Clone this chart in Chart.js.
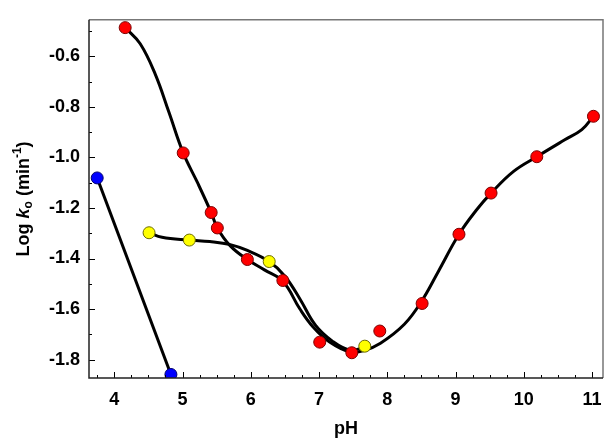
<!DOCTYPE html>
<html lang="en">
<head>
<meta charset="UTF-8">
<title>Log ko vs pH</title>
<script src="https://cdn.jsdelivr.net/npm/chart.js"></script>
<style>
    html, body { margin: 0; padding: 0; background: #ffffff; }
    #chart { display: block; }
</style>
</head>
<body>
<canvas id="chart" width="613" height="448"></canvas>
<script>
// measured points
const redPH = [4.16, 5.01, 5.42, 5.51, 5.95, 6.47, 7.01, 7.48, 7.89, 8.51, 9.05, 9.52, 10.19, 11.02];
const redLogK = [-0.486, -0.982, -1.218, -1.279, -1.404, -1.487, -1.731, -1.773, -1.687, -1.578, -1.304, -1.141, -0.997, -0.837];
const yellowPH = [4.51, 5.10, 6.27, 7.67];
const yellowLogK = [-1.298, -1.327, -1.412, -1.747];
const bluePH = [3.75, 4.83];
const blueLogK = [-1.081, -1.859];

// fitted curves
const redFitPH = [4.16, 4.38, 4.60, 4.80, 5.01, 5.22, 5.42, 5.51, 5.70, 5.95, 6.20, 6.47, 6.72, 6.91, 7.15, 7.45, 7.65, 7.90, 8.25, 8.50, 8.75, 9.05, 9.30, 9.52, 9.85, 10.19, 10.60, 10.85, 11.02];
const redFitLogK = [-0.486, -0.55, -0.67, -0.82, -0.982, -1.10, -1.218, -1.279, -1.35, -1.404, -1.445, -1.49, -1.60, -1.67, -1.73, -1.77, -1.765, -1.735, -1.66, -1.57, -1.45, -1.304, -1.21, -1.141, -1.055, -0.997, -0.93, -0.89, -0.837];
const yellowFitPH = [4.51, 4.70, 5.10, 5.40, 5.70, 5.95, 6.27, 6.50, 6.72, 6.95, 7.20, 7.45, 7.67];
const yellowFitLogK = [-1.298, -1.316, -1.327, -1.333, -1.345, -1.368, -1.412, -1.47, -1.56, -1.665, -1.728, -1.762, -1.752];

const xTicks = [4, 5, 6, 7, 8, 9, 10, 11];
const yTicks = [-0.6, -0.8, -1.0, -1.2, -1.4, -1.6, -1.8];

const pts = (xs, ys) => xs.map((x, i) => ({ x: x, y: ys[i] }));
const FONT = "'Liberation Sans', Arial, sans-serif";

// inward tick marks, frame and the y title with sub/superscripts
const decor = {
    id: 'decor',
    afterDatasetsDraw(chart) {
        const ctx = chart.ctx;
        const a = chart.chartArea;
        const xs = chart.scales.x, ys = chart.scales.y;
        ctx.save();
        ctx.strokeStyle = '#000';
        ctx.lineWidth = 1;
        ctx.beginPath();
        for (let v = 3.75; v <= 11.001; v += 0.25) {
            const px = Math.round(xs.getPixelForValue(v)) + 0.5;
            const len = Math.abs(v - Math.round(v)) < 1e-6 ? 6 : 3;
            ctx.moveTo(px, a.bottom);
            ctx.lineTo(px, a.bottom - len);
        }
        for (let v = -1.8; v <= -0.49; v += 0.1) {
            const py = Math.round(ys.getPixelForValue(v)) + 0.5;
            const major = yTicks.some(t => Math.abs(t - v) < 1e-6);
            ctx.moveTo(a.left, py);
            ctx.lineTo(a.left + (major ? 6 : 3), py);
        }
        ctx.stroke();

        // frame
        ctx.lineWidth = 1.5;
        ctx.strokeStyle = '#777';
        ctx.beginPath();
        ctx.moveTo(a.left, a.top);
        ctx.lineTo(a.right, a.top);
        ctx.lineTo(a.right, a.bottom);
        ctx.stroke();
        ctx.strokeStyle = '#222';
        ctx.beginPath();
        ctx.moveTo(a.left, a.top);
        ctx.lineTo(a.left, a.bottom);
        ctx.lineTo(a.right, a.bottom);
        ctx.stroke();

        // y title: Log k_o (min^-1)
        const parts = [
            { t: 'Log ', f: 'bold 18px ' + FONT, dy: 0 },
            { t: 'k', f: 'italic bold 18px ' + FONT, dy: 0 },
            { t: 'o', f: 'bold 12px ' + FONT, dy: 3 },
            { t: ' (min', f: 'bold 18px ' + FONT, dy: 0 },
            { t: '-1', f: 'bold 12px ' + FONT, dy: -8 },
            { t: ')', f: 'bold 18px ' + FONT, dy: 0 }
        ];
        let total = 0;
        parts.forEach(p => { ctx.font = p.f; p.w = ctx.measureText(p.t).width; total += p.w; });
        ctx.translate(29, (a.top + a.bottom) / 2);
        ctx.rotate(-Math.PI / 2);
        ctx.fillStyle = '#000';
        ctx.textBaseline = 'alphabetic';
        let x = -total / 2;
        parts.forEach(p => {
            ctx.font = p.f;
            ctx.fillText(p.t, x, p.dy);
            x += p.w;
        });
        ctx.restore();
    }
};

new Chart(document.getElementById('chart').getContext('2d'), {
    type: 'scatter',
    data: {
        datasets: [
            {
                label: 'red',
                data: pts(redPH, redLogK),
                pointRadius: 6,
                pointBackgroundColor: '#ff0000',
                pointBorderColor: '#7a0000',
                pointBorderWidth: 1,
                order: 0
            },
            {
                label: 'yellow',
                data: pts(yellowPH, yellowLogK),
                pointRadius: 6,
                pointBackgroundColor: '#ffff00',
                pointBorderColor: '#6b6b00',
                pointBorderWidth: 1,
                order: 0
            },
            {
                label: 'blue',
                data: pts(bluePH, blueLogK),
                pointRadius: 6,
                pointBackgroundColor: '#0000ff',
                pointBorderColor: '#000070',
                pointBorderWidth: 1,
                order: 0
            },
            {
                label: 'red fit',
                data: pts(redFitPH, redFitLogK),
                showLine: true,
                pointRadius: 0,
                borderColor: '#000',
                borderWidth: 3,
                tension: 0.4,
                order: 1
            },
            {
                label: 'yellow fit',
                data: pts(yellowFitPH, yellowFitLogK),
                showLine: true,
                pointRadius: 0,
                borderColor: '#000',
                borderWidth: 3,
                tension: 0.4,
                order: 1
            },
            {
                label: 'blue fit',
                data: pts(bluePH, blueLogK),
                showLine: true,
                pointRadius: 0,
                borderColor: '#000',
                borderWidth: 3,
                order: 1
            }
        ]
    },
    options: {
        responsive: false,
        animation: false,
        layout: { padding: { top: 9, right: 10, left: 0, bottom: 0 } },
        plugins: {
            legend: { display: false },
            tooltip: { enabled: false }
        },
        scales: {
            x: {
                type: 'linear',
                min: 3.63,
                max: 11.16,
                afterBuildTicks: s => { s.ticks = xTicks.map(v => ({ value: v })); },
                afterFit: s => { s.height = 70; },
                grid: { display: false, drawTicks: false },
                border: { display: false },
                ticks: {
                    color: '#000',
                    padding: 11,
                    maxRotation: 0,
                    font: { family: FONT, size: 18, weight: 'bold' }
                },
                title: {
                    display: true,
                    text: 'pH',
                    color: '#000',
                    padding: { top: 0, bottom: 8 },
                    font: { family: FONT, size: 18, weight: 'bold' }
                }
            },
            y: {
                type: 'linear',
                min: -1.873,
                max: -0.455,
                afterBuildTicks: s => { s.ticks = yTicks.map(v => ({ value: v })); },
                afterFit: s => { s.width = 89; },
                grid: { display: false, drawTicks: false },
                border: { display: false },
                ticks: {
                    color: '#000',
                    padding: 9,
                    font: { family: FONT, size: 18, weight: 'bold' },
                    callback: v => v.toFixed(1)
                }
            }
        }
    },
    plugins: [decor]
});
</script>
</body>
</html>
